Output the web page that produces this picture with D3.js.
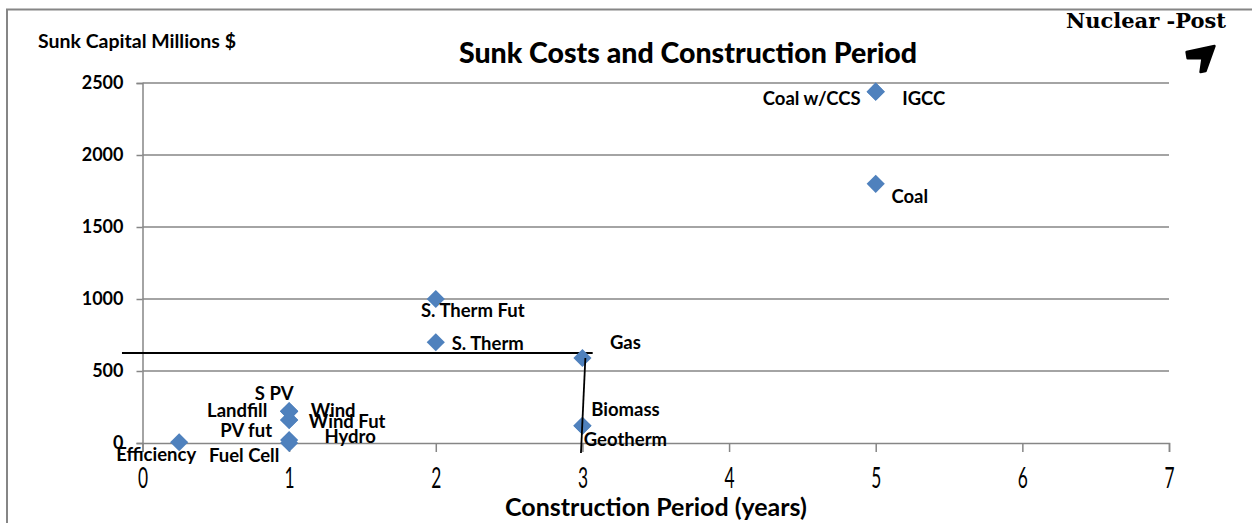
<!DOCTYPE html>
<html>
<head>
<meta charset="utf-8">
<script src="https://cdn.jsdelivr.net/npm/d3@7"></script>
<style>
  body { margin: 0; background: #fff; }
  svg { display: block; }
  .lbl { font-family: Lato, "Open Sans", sans-serif; font-weight: bold; font-size: 18.5px; fill: #000; }
</style>
</head>
<body>
<svg width="1252" height="523"></svg>
<script>
// data
const names = ["Efficiency", "Fuel Cell", "Hydro", "PV fut", "Wind Fut", "Landfill", "Wind", "S PV",
  "S. Therm", "S. Therm Fut", "Gas", "Biomass", "Geotherm", "Coal", "IGCC", "Coal w/CCS"];
const periods = [0.25, 1, 1, 1, 1, 1, 1, 1, 2, 2, 3, 3, 3, 5, 5, 5];
const capital = [5, 0, 20, 160, 160, 220, 220, 220, 700, 1000, 590, 120, 120, 1800, 2440, 2440];
const xTicks = [0, 1, 2, 3, 4, 5, 6, 7];
const yTicks = [0, 500, 1000, 1500, 2000, 2500];
// hand drawn annotation lines (data units)
const hLine = [[-0.14, 625], [3.07, 625]];
const vLine = [[3.02, 590], [2.99, -70]];
const arrowPts = [[7.12, 2715], [7.31, 2757], [7.249, 2583], [7.215, 2576], [7.229, 2674], [7.127, 2672]];

// label placement (pixels from marker)
const labelOffsets = {
  "Efficiency": [-23, 12], "Fuel Cell": [-45, 12], "Hydro": [61, -4], "PV fut": [-43, 10],
  "Wind Fut": [58, 1], "Landfill": [-52, -1], "Wind": [44, -1], "S PV": [-15, -18],
  "S. Therm": [52, 1], "S. Therm Fut": [37, 11], "Gas": [43, -16], "Biomass": [43, -17],
  "Geotherm": [43, 13], "Coal": [34, 12], "IGCC": [48, 6], "Coal w/CCS": [-64, 6]
};

const data = names.map((n, i) => ({ name: n, x: periods[i], y: capital[i] }));

const svg = d3.select("svg");
const x = d3.scaleLinear().domain([0, 7]).range([142.5, 1169]);
const y = d3.scaleLinear().domain([0, 2500]).range([443, 83]);
const grid = "#868686";

// outer frame
svg.append("rect").attr("x", 7).attr("y", 9.5).attr("width", 1260).attr("height", 530)
  .attr("fill", "none").attr("stroke", grid).attr("stroke-width", 2);

// gridlines
svg.append("g").selectAll("line").data(yTicks.filter(d => d > 0)).join("line")
  .attr("x1", x(0)).attr("x2", x(7)).attr("y1", d => y(d)).attr("y2", d => y(d))
  .attr("stroke", grid).attr("stroke-width", 1.5);

// y axis
const yAxis = svg.append("g").attr("transform", `translate(${x(0)},0)`)
  .call(d3.axisLeft(y).tickValues(yTicks).tickSize(6).tickPadding(13).tickFormat(d3.format("d")));
yAxis.select(".domain").attr("stroke", grid).attr("stroke-width", 1.5);
yAxis.selectAll(".tick line").attr("stroke", grid).attr("stroke-width", 1.5);
yAxis.selectAll(".tick text").attr("font-family", "Lato, sans-serif").attr("font-weight", "bold")
  .attr("font-size", "18px").attr("fill", "#000");

// x axis
const xAxis = svg.append("g").attr("transform", `translate(0,${y(0)})`)
  .call(d3.axisBottom(x).tickValues(xTicks).tickSize(9).tickPadding(16).tickFormat(d3.format("d")));
xAxis.select(".domain").attr("stroke", grid).attr("stroke-width", 1.5);
xAxis.selectAll(".tick line").attr("stroke", grid).attr("stroke-width", 1.5);
xAxis.selectAll(".tick text").attr("font-family", "Lato, sans-serif").attr("font-weight", "normal")
  .attr("font-size", "28px").attr("fill", "#000").attr("transform", "scale(0.62,1)");

// annotation lines
const line = d3.line().x(d => x(d[0])).y(d => y(d[1]));
svg.append("path").attr("d", line(hLine)).attr("stroke", "#000").attr("stroke-width", 1.8).attr("fill", "none");

// markers
svg.append("g").selectAll("path").data(data).join("path")
  .attr("d", d3.symbol().type(d3.symbolDiamond2).size(210))
  .attr("transform", d => `translate(${x(d.x)},${y(d.y)})`)
  .attr("fill", "#4F81BD");

svg.append("path").attr("d", line(vLine)).attr("stroke", "#000").attr("stroke-width", 1.8).attr("fill", "none");

// point labels
svg.append("g").selectAll("text").data(data).join("text")
  .attr("class", "lbl")
  .attr("x", d => x(d.x) + labelOffsets[d.name][0])
  .attr("y", d => y(d.y) + labelOffsets[d.name][1])
  .attr("text-anchor", "middle").attr("dominant-baseline", "central")
  .text(d => d.name);

// titles
svg.append("text").attr("x", 688).attr("y", 63).attr("text-anchor", "middle")
  .attr("font-family", "Lato, sans-serif").attr("font-weight", "900").attr("font-size", "28.5px")
  .text("Sunk Costs and Construction Period");
svg.append("text").attr("x", 38).attr("y", 48)
  .attr("font-family", "Lato, sans-serif").attr("font-weight", "bold").attr("font-size", "19.5px")
  .text("Sunk Capital Millions $");
svg.append("text").attr("x", 656).attr("y", 516).attr("text-anchor", "middle")
  .attr("font-family", "Lato, sans-serif").attr("font-weight", "bold").attr("font-size", "25px")
  .text("Construction Period (years)");

// nuclear note
svg.append("text").attr("x", 1146).attr("y", 28).attr("text-anchor", "middle")
  .attr("font-family", "'DejaVu Serif', serif").attr("font-weight", "bold").attr("font-size", "21px")
  .text("Nuclear -Post");
svg.append("path").attr("d", line(arrowPts) + "Z").attr("fill", "#000")
  .attr("stroke", "#000").attr("stroke-width", 2.5).attr("stroke-linejoin", "round");
</script>
</body>
</html>
